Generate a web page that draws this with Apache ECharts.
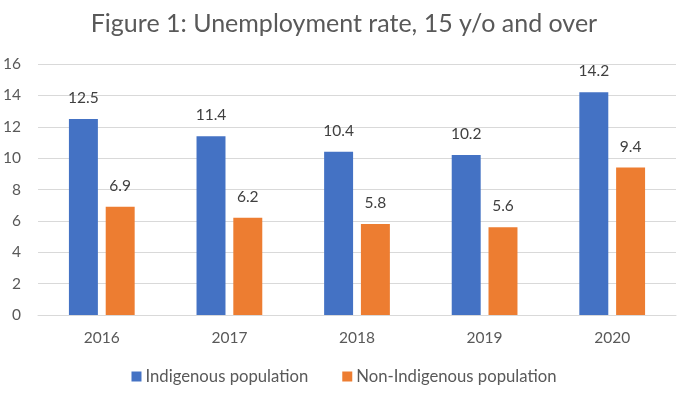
<!DOCTYPE html>
<html><head><meta charset="utf-8">
<script src="https://cdn.jsdelivr.net/npm/echarts@6/dist/echarts.min.js"></script>
<style>html,body{margin:0;padding:0;background:#fff}#c{width:688px;height:393px}</style>
</head><body><div id="c"></div>
<script>
var categories = ['2016','2017','2018','2019','2020'];
var indigenous = [12.5, 11.4, 10.4, 10.2, 14.2];
var nonIndigenous = [6.9, 6.2, 5.8, 5.6, 9.4];
var yTicks = [0, 2, 4, 6, 8, 10, 12, 14, 16];
var FONT = 'Lato';
var chart = echarts.init(document.getElementById('c'), null, {renderer:'canvas'});
chart.setOption({
  animation: false,
  title: {text: 'Figure 1: Unemployment rate, 15 y/o and over', left: 'center', top: 6,
    textStyle: {fontFamily: FONT, fontSize: 25, fontWeight: 'normal', color: '#595959'}},
  legend: {bottom: 3, left: 'center', itemWidth: 10, itemHeight: 10, itemGap: 34, icon: 'rect',
    textStyle: {fontFamily: FONT, fontSize: 16.7, color: '#595959', padding: [0,0,0,-1]},
    data: ['Indigenous population', 'Non-Indigenous population']},
  grid: {left: 38, right: 12, top: 64, bottom: 78, containLabel: false},
  xAxis: {type: 'category', data: categories,
    axisLine: {lineStyle: {color: '#d9d9d9'}}, axisTick: {show: false},
    axisLabel: {fontFamily: FONT, fontSize: 15.5, color: '#595959', margin: 15}},
  yAxis: {type: 'value', min: yTicks[0], max: yTicks[yTicks.length-1], interval: 2,
    axisLine: {show: false}, axisTick: {show: false},
    splitLine: {lineStyle: {color: '#d9d9d9', width: 1}},
    axisLabel: {fontFamily: FONT, fontSize: 15.5, color: '#595959', margin: 17}},
  series: [
    {name: 'Indigenous population', type: 'bar', data: indigenous, barWidth: '22.7%', barGap: '27%',
     itemStyle: {color: '#4472c4'},
     label: {show: true, position: 'top', distance: 13, fontFamily: FONT, fontSize: 15.5, color: '#404040'}},
    {name: 'Non-Indigenous population', type: 'bar', data: nonIndigenous, barWidth: '22.7%', barGap: '27%',
     itemStyle: {color: '#ed7d31'},
     label: {show: true, position: 'top', distance: 13, fontFamily: FONT, fontSize: 15.5, color: '#404040'}}
  ]
});
</script></body></html>
